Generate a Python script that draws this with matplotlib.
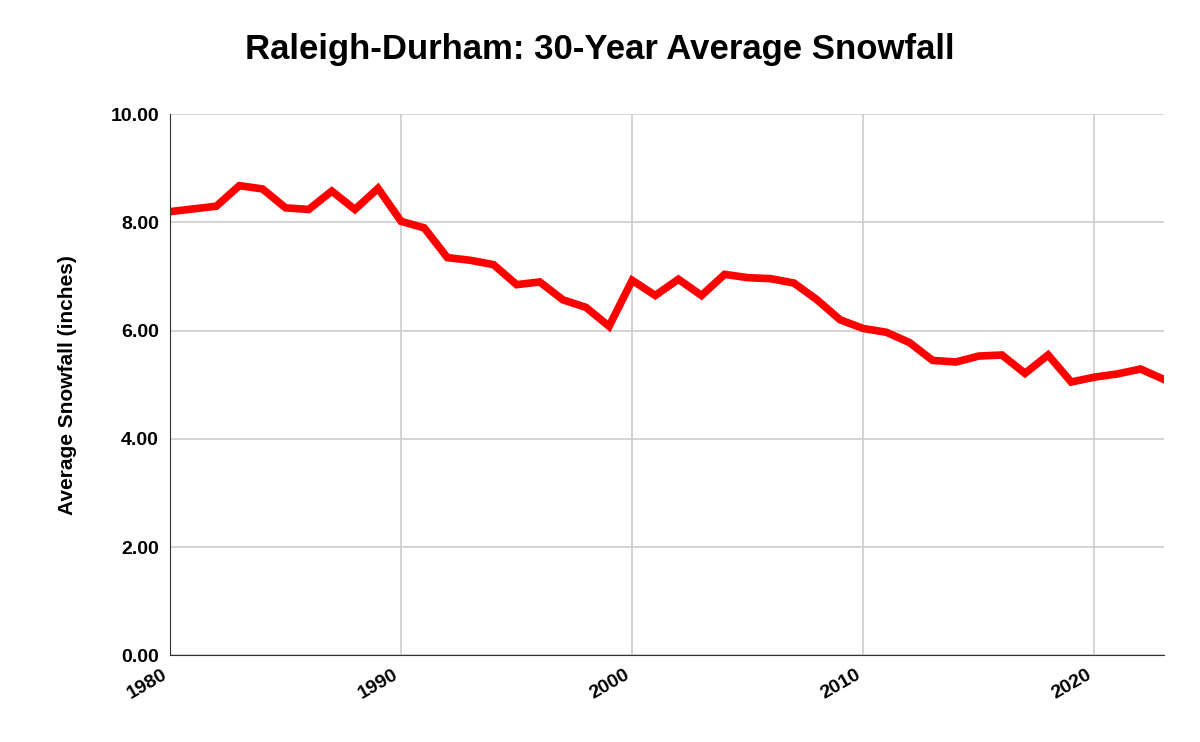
import matplotlib
matplotlib.use("Agg")
import matplotlib.pyplot as plt

plt.rcParams["font.family"] = "Liberation Sans"

years = list(range(1980, 2024))
snowfall = [8.20, 8.25, 8.30, 8.68, 8.62, 8.27, 8.24, 8.58, 8.24, 8.63,
            8.02, 7.90, 7.35, 7.30, 7.22, 6.85, 6.90, 6.57, 6.43, 6.08,
            6.93, 6.65, 6.95, 6.65, 7.04, 6.98, 6.96, 6.88, 6.57, 6.20,
            6.04, 5.97, 5.78, 5.45, 5.42, 5.53, 5.55, 5.21, 5.55, 5.05,
            5.14, 5.20, 5.29, 5.10]
xticks = [1980, 1990, 2000, 2010, 2020]
yticks = [0, 2, 4, 6, 8, 10]

fig = plt.figure(figsize=(12, 7.42), dpi=100)
ax = fig.add_axes([0.1417, 0.117, 0.828, 0.729])
ax.plot(years, snowfall, color="#ff0000", linewidth=5.5, solid_joinstyle="miter")
ax.set_xlim(1980, 2023)
ax.set_ylim(0, 10)
ax.set_xticks(xticks)
ax.set_xticklabels([str(t) for t in xticks], rotation=30, ha="right",
                   fontsize=14, fontweight="bold")
ax.set_yticks(yticks)
ax.set_yticklabels([f"{t:.2f}" for t in yticks], fontsize=14, fontweight="bold")
ax.grid(True, color="#cccccc", linewidth=1.2)
ax.set_axisbelow(True)
for s in ["top", "right"]:
    ax.spines[s].set_visible(False)
ax.spines["left"].set_color("#333333")
ax.spines["bottom"].set_color("#333333")
ax.tick_params(length=0, pad=8)
ax.set_ylabel("Average Snowfall (inches)", fontsize=15, fontweight="bold", labelpad=24)
fig.suptitle("Raleigh-Durham: 30-Year Average Snowfall", fontsize=25,
             fontweight="bold", x=0.5, y=0.955)
fig.savefig("out.png")
